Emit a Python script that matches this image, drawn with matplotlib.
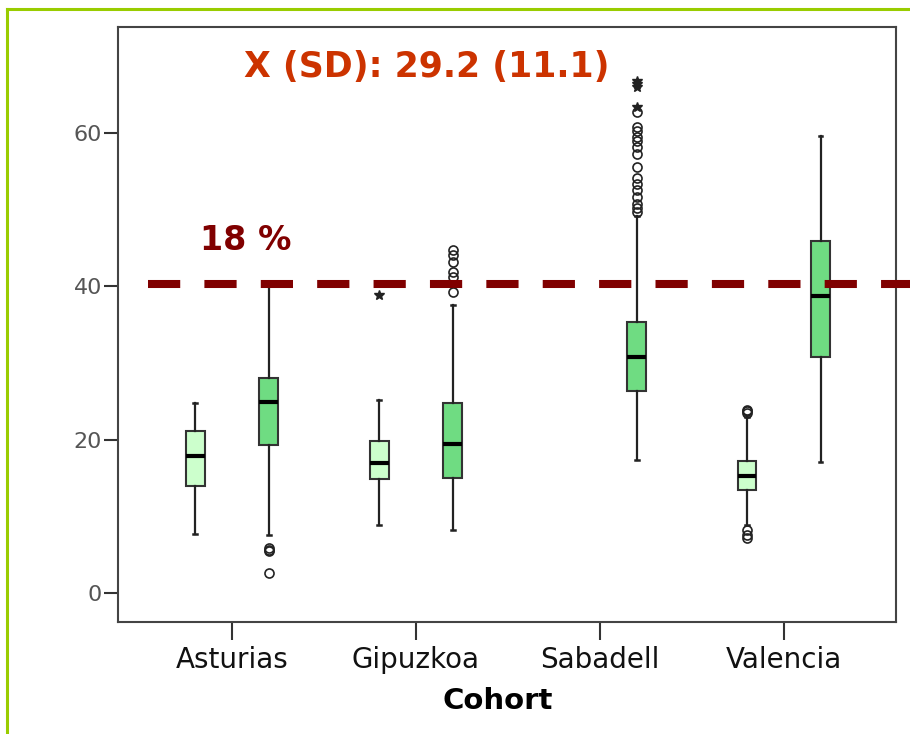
import numpy as np
import matplotlib.pyplot as plt
from matplotlib.lines import Line2D

nan = np.nan
cohorts = ['Asturias', 'Gipuzkoa', 'Sabadell', 'Valencia']

# first subgroup (light boxes)
light_q1 = [13.9, 14.9, nan, 13.4]
light_med = [17.8, 17.0, nan, 15.2]
light_q3 = [21.1, 19.8, nan, 17.2]
light_lo = [7.7, 8.8, nan, 8.8]
light_hi = [24.8, 25.2, nan, 23.0]
light_out = [[], [], [], [23.4, 23.7, 23.9, 8.2, 7.6, 7.1]]
light_ext = [[], [38.8], [], []]

# second subgroup (dark boxes)
dark_q1 = [19.3, 15.0, 26.3, 30.8]
dark_med = [24.9, 19.4, 30.8, 38.7]
dark_q3 = [28.0, 24.7, 35.3, 45.9]
dark_lo = [7.6, 8.2, 17.3, 17.1]
dark_hi = [40.0, 37.6, 49.1, 59.6]
dark_out = [[5.9, 5.6, 5.4, 2.6],
            [39.3, 41.2, 41.9, 43.2, 44.1, 44.7],
            [49.7, 50.2, 50.7, 51.6, 52.5, 53.3, 54.1, 55.6, 57.3, 58.2,
             58.9, 59.5, 60.2, 60.8, 62.7],
            []]
dark_ext = [[], [], [63.4, 66.0, 66.4, 66.8], []]

cutoff = 40.3
cutoff_label = '18 %'
summary = 'X (SD): 29.2 (11.1)'

fig = plt.figure(figsize=(9.1, 7.34), dpi=100)
ax = fig.add_axes([118/910, 1-622/734, (896-118)/910, (622-27)/734])

def stats(q1, med, q3, lo, hi, out):
    res, pos = [], []
    for i in range(len(q1)):
        if np.isnan(med[i]):
            continue
        res.append(dict(q1=q1[i], med=med[i], q3=q3[i], whislo=lo[i],
                        whishi=hi[i], fliers=out[i]))
        pos.append(i)
    return res, pos

x = np.arange(len(cohorts))
off = 0.2
for vals, sign, fill in [((light_q1, light_med, light_q3, light_lo, light_hi, light_out), -1, '#ccffcc'),
                         ((dark_q1, dark_med, dark_q3, dark_lo, dark_hi, dark_out), 1, '#6fdc82')]:
    st, pos = stats(*vals)
    ax.bxp(st, positions=x[pos] + sign*off, widths=0.103, patch_artist=True,
           showfliers=True, capwidths=0.02,
           boxprops=dict(facecolor=fill, edgecolor='#333333', linewidth=1.5),
           medianprops=dict(color='black', linewidth=3),
           whiskerprops=dict(color='#222222', linewidth=1.6),
           capprops=dict(color='#222222', linewidth=1.8),
           flierprops=dict(marker='o', markerfacecolor='none', markeredgecolor='#222222',
                           markersize=6.5, markeredgewidth=1.2))

for ext, sign in [(light_ext, -1), (dark_ext, 1)]:
    for i, e in enumerate(ext):
        if e:
            ax.plot([x[i] + sign*off]*len(e), e, ls='none', marker='*', color='#222222',
                    markersize=7)

ax.plot([-0.457, 3.69], [cutoff, cutoff], color='#800000', lw=5.8, dashes=(4, 3),
        clip_on=False, zorder=5)
ax.text(0.076, 46.0, cutoff_label, color='#800000', fontsize=24, fontweight='bold',
        ha='center', va='center')
ax.text(1.06, 68.6, summary, color='#cc3300', fontsize=25, fontweight='bold',
        ha='center', va='center')

ax.set_xlim(-0.62, 3.61)
ax.set_ylim(-3.8, 73.8)
ax.set_yticks([0, 20, 40, 60])
ax.set_xticks(x)
ax.set_xticklabels(cohorts, fontsize=20, color='#111111')
ax.tick_params(axis='y', direction='out', length=10, width=1.5, pad=1.5,
               labelsize=16, labelcolor='#555555', color='#333333')
ax.tick_params(axis='x', direction='out', length=13, width=1.5, pad=4, color='#333333')
ax.set_xlabel('Cohort', fontsize=21, fontweight='bold')
ax.xaxis.set_label_coords((498-118)/(896-118), -(701-622)/(622-27), transform=ax.transAxes)
ax.xaxis.label.set_va('center')
for s in ax.spines.values():
    s.set_color('#444444')
    s.set_linewidth(1.5)

# green frame of the slide
fig.add_artist(Line2D([6.5/910, 6.5/910], [0, 1-9/734], color='#99cc00', lw=2.2))
fig.add_artist(Line2D([6.5/910, 1], [1-9/734, 1-9/734], color='#99cc00', lw=2.2))

fig.savefig('out.png', dpi=100)
